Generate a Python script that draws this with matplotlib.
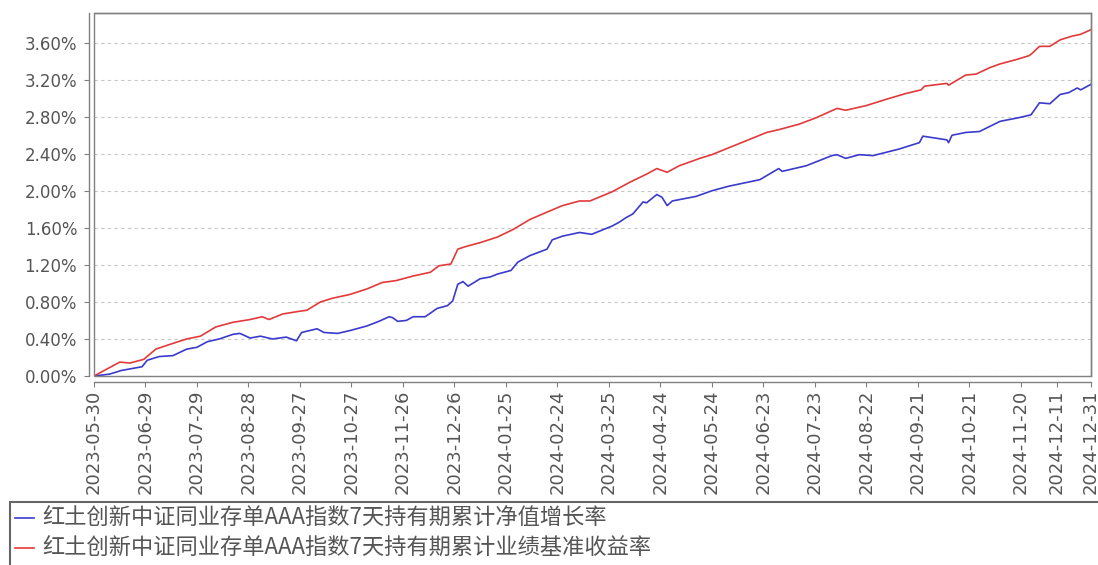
import matplotlib
matplotlib.use("Agg")
import matplotlib.pyplot as plt
from matplotlib.patches import Rectangle
from matplotlib.lines import Line2D
import pandas as pd

nav_dates = ["2023-05-30", "2023-06-08", "2023-06-15", "2023-06-27", "2023-06-30", "2023-07-07",
             "2023-07-15", "2023-07-23", "2023-07-29", "2023-08-04", "2023-08-11", "2023-08-19",
             "2023-08-23", "2023-08-29", "2023-09-04", "2023-09-11", "2023-09-19", "2023-09-25",
             "2023-09-28", "2023-10-07", "2023-10-11", "2023-10-19", "2023-10-26", "2023-11-05",
             "2023-11-12", "2023-11-18", "2023-11-20", "2023-11-23", "2023-11-28", "2023-12-02",
             "2023-12-09", "2023-12-16", "2023-12-22", "2023-12-25", "2023-12-28", "2023-12-31",
             "2024-01-03", "2024-01-10", "2024-01-16", "2024-01-20", "2024-01-28", "2024-02-01",
             "2024-02-08", "2024-02-18", "2024-02-21", "2024-02-27", "2024-03-08", "2024-03-15",
             "2024-03-27", "2024-03-31", "2024-04-04", "2024-04-08", "2024-04-14", "2024-04-16",
             "2024-04-22", "2024-04-25", "2024-04-28", "2024-05-01", "2024-05-15", "2024-05-24",
             "2024-06-03", "2024-06-21", "2024-07-02", "2024-07-04", "2024-07-18", "2024-08-02",
             "2024-08-05", "2024-08-10", "2024-08-18", "2024-08-26", "2024-09-10", "2024-09-22",
             "2024-09-24", "2024-10-08", "2024-10-09", "2024-10-11", "2024-10-19", "2024-10-27",
             "2024-11-08", "2024-11-19", "2024-11-26", "2024-12-01", "2024-12-07", "2024-12-13",
             "2024-12-18", "2024-12-23", "2024-12-25", "2024-12-31"]
nav_values = [0.00, 0.02, 0.06, 0.10, 0.17, 0.21,
              0.22, 0.29, 0.31, 0.37, 0.40, 0.45,
              0.46, 0.41, 0.43, 0.40, 0.42, 0.38,
              0.47, 0.51, 0.47, 0.46, 0.49, 0.54,
              0.59, 0.64, 0.63, 0.59, 0.60, 0.64,
              0.64, 0.73, 0.76, 0.81, 0.99, 1.02,
              0.97, 1.05, 1.07, 1.10, 1.14, 1.23,
              1.30, 1.37, 1.47, 1.51, 1.55, 1.53,
              1.62, 1.66, 1.71, 1.75, 1.88, 1.87,
              1.96, 1.93, 1.84, 1.89, 1.94, 2.00,
              2.05, 2.12, 2.24, 2.21, 2.27, 2.38,
              2.39, 2.35, 2.39, 2.38, 2.45, 2.52,
              2.59, 2.55, 2.52, 2.60, 2.63, 2.64,
              2.75, 2.79, 2.82, 2.95, 2.94, 3.04,
              3.06, 3.11, 3.09, 3.15]

bench_dates = ["2023-05-30", "2023-06-14", "2023-06-20", "2023-06-28", "2023-07-05", "2023-07-13",
               "2023-07-23", "2023-07-31", "2023-08-09", "2023-08-19", "2023-08-29", "2023-09-05",
               "2023-09-09", "2023-09-17", "2023-09-27", "2023-10-01", "2023-10-09", "2023-10-16",
               "2023-10-26", "2023-11-05", "2023-11-14", "2023-11-22", "2023-12-02", "2023-12-12",
               "2023-12-17", "2023-12-24", "2023-12-28", "2024-01-02", "2024-01-10", "2024-01-20",
               "2024-01-29", "2024-02-08", "2024-02-18", "2024-02-27", "2024-03-08", "2024-03-14",
               "2024-03-27", "2024-04-06", "2024-04-16", "2024-04-22", "2024-04-28", "2024-05-05",
               "2024-05-17", "2024-05-24", "2024-06-05", "2024-06-25", "2024-07-02", "2024-07-14",
               "2024-07-24", "2024-08-05", "2024-08-10", "2024-08-22", "2024-09-03", "2024-09-14",
               "2024-09-23", "2024-09-25", "2024-10-08", "2024-10-09", "2024-10-19", "2024-10-25",
               "2024-11-02", "2024-11-08", "2024-11-18", "2024-11-25", "2024-11-27", "2024-12-01",
               "2024-12-07", "2024-12-13", "2024-12-20", "2024-12-25", "2024-12-31"]
bench_values = [0.00, 0.15, 0.14, 0.18, 0.29, 0.34,
                0.40, 0.43, 0.53, 0.58, 0.61, 0.64,
                0.61, 0.67, 0.70, 0.71, 0.80, 0.84,
                0.88, 0.94, 1.01, 1.03, 1.08, 1.12,
                1.19, 1.21, 1.37, 1.40, 1.44, 1.50,
                1.58, 1.69, 1.77, 1.84, 1.89, 1.89,
                1.99, 2.09, 2.18, 2.24, 2.20, 2.27,
                2.35, 2.39, 2.48, 2.63, 2.66, 2.72,
                2.79, 2.89, 2.87, 2.92, 2.99, 3.05,
                3.09, 3.13, 3.16, 3.14, 3.25, 3.26,
                3.33, 3.37, 3.42, 3.46, 3.49, 3.56,
                3.56, 3.63, 3.67, 3.69, 3.74]

x_ticks = ["2023-05-30", "2023-06-29", "2023-07-29", "2023-08-28", "2023-09-27", "2023-10-27",
           "2023-11-26", "2023-12-26", "2024-01-25", "2024-02-24", "2024-03-25", "2024-04-24",
           "2024-05-24", "2024-06-23", "2024-07-23", "2024-08-22", "2024-09-21", "2024-10-21",
           "2024-11-20", "2024-12-11", "2024-12-31"]
y_ticks = [0.0, 0.4, 0.8, 1.2, 1.6, 2.0, 2.4, 2.8, 3.2, 3.6]

series_labels = ["红土创新中证同业存单AAA指数7天持有期累计净值增长率",
                 "红土创新中证同业存单AAA指数7天持有期累计业绩基准收益率"]
blue = "#3a3acc"
red = "#e23a3a"
gray = "#808080"
text_gray = "#555555"

fig = plt.figure(figsize=(10.98, 5.65), dpi=100)
ax = fig.add_axes([94/1098, 1-376/565, (1091-94)/1098, (376-13)/565])

ax.plot(pd.to_datetime(nav_dates), nav_values, color=blue, lw=1.2)
ax.plot(pd.to_datetime(bench_dates), bench_values, color=red, lw=1.2)

xt = pd.to_datetime(x_ticks)
ax.set_xlim(xt[0], xt[-1])
ax.set_ylim(0, 3.92)
ax.set_xticks(xt)
ax.set_xticklabels(x_ticks)
ax.set_yticks(y_ticks)
ax.set_yticklabels([f"{v:.2f}%" for v in y_ticks])

ax.grid(axis="y", color="#c8c8c8", lw=0.8, ls=(0, (3, 3)))
ax.set_axisbelow(True)

for s in ax.spines.values():
    s.set_color(gray)
    s.set_linewidth(1.0)
ax.spines["left"].set_position(("outward", 3.6))
ax.spines["bottom"].set_position(("outward", 4.3))
ax.add_patch(Rectangle((0, 0), 1, 1, transform=ax.transAxes, fill=False,
                       edgecolor=gray, lw=1.0, clip_on=False, zorder=5))
ax.tick_params(axis="both", colors=gray, length=3.5, width=0.8, labelcolor=text_gray)
ax.tick_params(axis="y", pad=5, labelsize=12)
ax.tick_params(axis="x", pad=2, labelsize=13, labelrotation=90)

# legend box (extends beyond the figure like the reference)
fig.patches.append(Rectangle((10/1098, -0.1), 1.2, 1-502/565+0.1, transform=fig.transFigure,
                             fill=False, edgecolor="#666666", lw=1.5))
for i, (lab, col) in enumerate(zip(series_labels, [blue, red])):
    yy = 1 - (518 + 30*i)/565
    fig.add_artist(Line2D([15/1098, 34/1098], [yy, yy], color=col, lw=1.2,
                          transform=fig.transFigure))
    fig.text(42/1098, yy, lab, fontsize=16, color=text_gray, va="center", ha="left",
             family=["Noto Sans CJK SC", "DejaVu Sans"])

fig.savefig("out.png", dpi=100)
